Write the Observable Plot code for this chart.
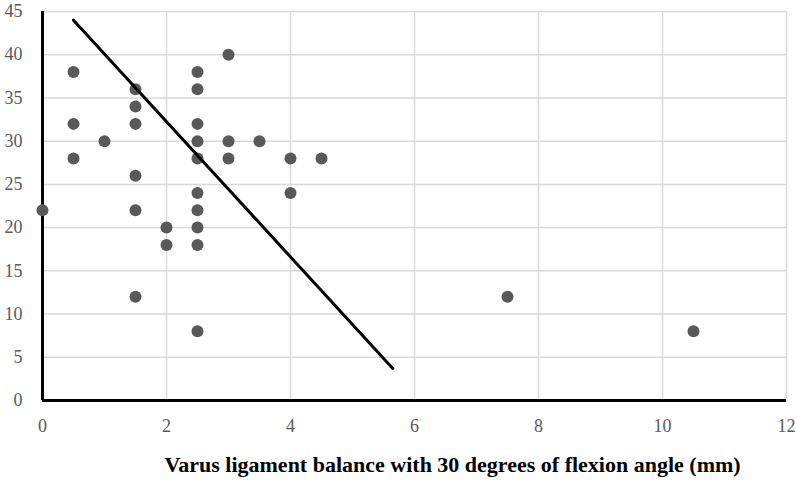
<!DOCTYPE html>
<html>
<head>
<meta charset="utf-8">
<script src="https://cdn.jsdelivr.net/npm/d3@7"></script>
<script src="https://cdn.jsdelivr.net/npm/@observablehq/plot@0.6"></script>
<style>
  html, body { margin: 0; padding: 0; background: #fff; }
</style>
</head>
<body>
<div id="chart"></div>
<script>
const xValues = [0, 0.5, 0.5, 0.5, 1, 1.5, 1.5, 1.5, 1.5, 1.5, 1.5, 2, 2, 2.5, 2.5, 2.5, 2.5, 2.5, 2.5, 2.5, 2.5, 2.5, 2.5, 3, 3, 3, 3.5, 4, 4, 4.5, 7.5, 10.5];
const yValues = [22, 38, 32, 28, 30, 36, 34, 32, 26, 22, 12, 20, 18, 38, 36, 32, 30, 28, 24, 22, 20, 18, 8, 40, 30, 28, 30, 28, 24, 28, 12, 8];
const trendX = [0.5, 5.65];
const trendY = [44, 3.7];
const xTicks = [0, 2, 4, 6, 8, 10, 12];
const yTicks = [0, 5, 10, 15, 20, 25, 30, 35, 40, 45];
const xTitle = "Varus ligament balance with 30 degrees of flexion angle (mm)";

const points = xValues.map((x, i) => ({x, y: yValues[i]}));
const trend = trendX.map((x, i) => ({x, y: trendY[i]}));
const serif = "Liberation Serif";

const chart = Plot.plot({
  width: 797,
  height: 484,
  marginLeft: 42,
  marginRight: 11,
  marginTop: 11,
  marginBottom: 84,
  style: {fontFamily: serif, fontSize: "18px", color: "#595959", background: "#fff"},
  x: {domain: [0, 12], ticks: xTicks},
  y: {domain: [0, 45], ticks: yTicks},
  marks: [
    Plot.gridX(xTicks, {stroke: "#d9d9d9", strokeOpacity: 1, strokeWidth: 1.5}),
    Plot.gridY(yTicks, {stroke: "#d9d9d9", strokeOpacity: 1, strokeWidth: 1.5}),
    Plot.axisX(xTicks, {tickSize: 0, tickPadding: 19, label: null, fill: "#595959", fontSize: 18, fontFamily: serif}),
    Plot.axisY(yTicks, {tickSize: 0, tickPadding: 20, label: null, fill: "#595959", fontSize: 18, fontFamily: serif}),
    Plot.ruleX([0], {stroke: "#000", strokeWidth: 3}),
    Plot.ruleY([0], {stroke: "#000", strokeWidth: 3}),
    Plot.dot(points, {x: "x", y: "y", r: 6, fill: "#595959", stroke: "none"}),
    Plot.line(trend, {x: "x", y: "y", stroke: "#000", strokeWidth: 3}),
    Plot.text([xTitle], {text: d => d, frameAnchor: "bottom", dx: 38, dy: 71, fontWeight: "bold", fontSize: 22, fill: "#000", fontFamily: serif})
  ]
});
chart.querySelectorAll("text").forEach(t => {
  t.style.fontFamily = "'Liberation Serif', serif";
  t.setAttribute("font-family", "Liberation Serif");
});
document.getElementById("chart").appendChild(chart);
</script>
</body>
</html>
